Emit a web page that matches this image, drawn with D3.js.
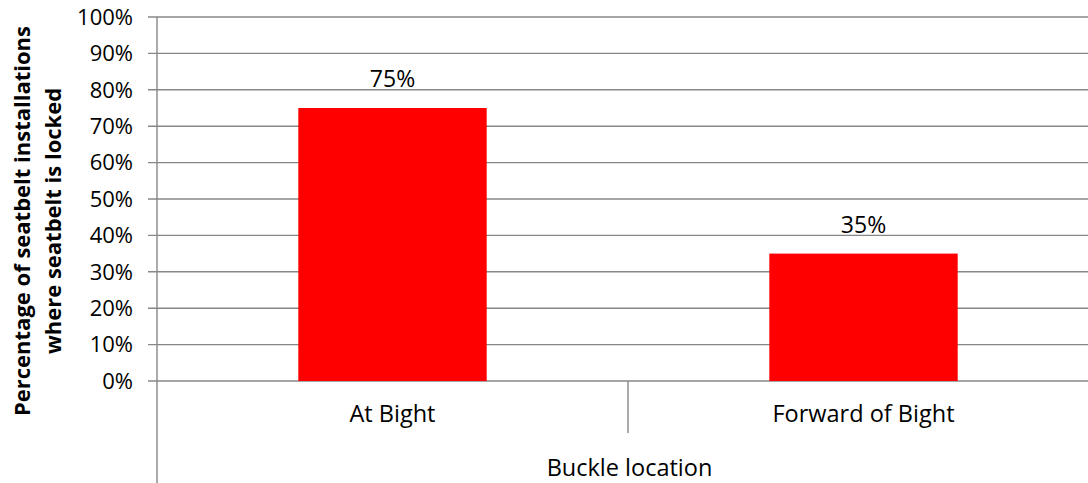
<!DOCTYPE html>
<html><head><meta charset="utf-8">
<script src="https://cdn.jsdelivr.net/npm/d3@7"></script>
<style>body{margin:0;background:#fff;overflow:hidden}text{font-family:"Open Sans",sans-serif;fill:#000}</style>
</head><body>
<svg id="c" width="1088" height="483"></svg>
<script>
const categories = ["At Bight", "Forward of Bight"];
const values = [75, 35];
const yTicks = [0,10,20,30,40,50,60,70,80,90,100];
const yTitle = ["Percentage of seatbelt installations", "where seatbelt is locked"];
const xTitle = "Buckle location";

const svg = d3.select("#c");
const L = 157, R = 1099, T = 17, B = 381;
const x = d3.scaleBand().domain(categories).range([L, R]).paddingInner(0.6).paddingOuter(0.3);
const xb = d3.scaleBand().domain(categories).range([L, R]).padding(0);
const y = d3.scaleLinear().domain([0, 100]).range([B, T]);
const grid = "#878787";

svg.append("g").selectAll("line").data(yTicks).join("line")
  .attr("x1", L - 9).attr("x2", 1088).attr("y1", d => y(d)).attr("y2", d => y(d))
  .attr("stroke", grid).attr("stroke-width", 1.4);
svg.append("g").selectAll("text").data(yTicks).join("text")
  .attr("x", 133).attr("y", d => y(d)).attr("dy", "0.35em").attr("text-anchor", "end")
  .attr("font-size", 22).text(d => d + "%");
svg.append("line").attr("x1", L).attr("x2", L).attr("y1", T).attr("y2", 483)
  .attr("stroke", grid).attr("stroke-width", 1.4);
svg.append("g").selectAll("line").data(categories.slice(1)).join("line")
  .attr("x1", d => xb(d)).attr("x2", d => xb(d)).attr("y1", B).attr("y2", 433)
  .attr("stroke", grid).attr("stroke-width", 1.4);
svg.append("g").selectAll("rect").data(values).join("rect")
  .attr("x", (d, i) => x(categories[i])).attr("width", x.bandwidth())
  .attr("y", d => y(d)).attr("height", d => y(0) - y(d)).attr("fill", "#ff0000");
svg.append("g").selectAll("text").data(values).join("text")
  .attr("x", (d, i) => x(categories[i]) + x.bandwidth() / 2).attr("y", d => y(d) - 21)
  .attr("text-anchor", "middle").attr("font-size", 23).text(d => d + "%");
svg.append("g").selectAll("text").data(categories).join("text")
  .attr("x", d => x(d) + x.bandwidth() / 2).attr("y", 422)
  .attr("text-anchor", "middle").attr("font-size", 23.5).text(d => d);
svg.append("text").attr("x", 629.5).attr("y", 476).attr("text-anchor", "middle")
  .attr("font-size", 23.5).text(xTitle);
const yt = svg.append("text").attr("transform", "translate(0," + 221 + ") rotate(-90)")
  .attr("text-anchor", "middle").attr("font-weight", "bold").attr("font-size", 22);
yTitle.forEach((t, i) => yt.append("tspan").attr("x", 0).attr("y", 30 + i * 31).text(t));
</script>
</body></html>
